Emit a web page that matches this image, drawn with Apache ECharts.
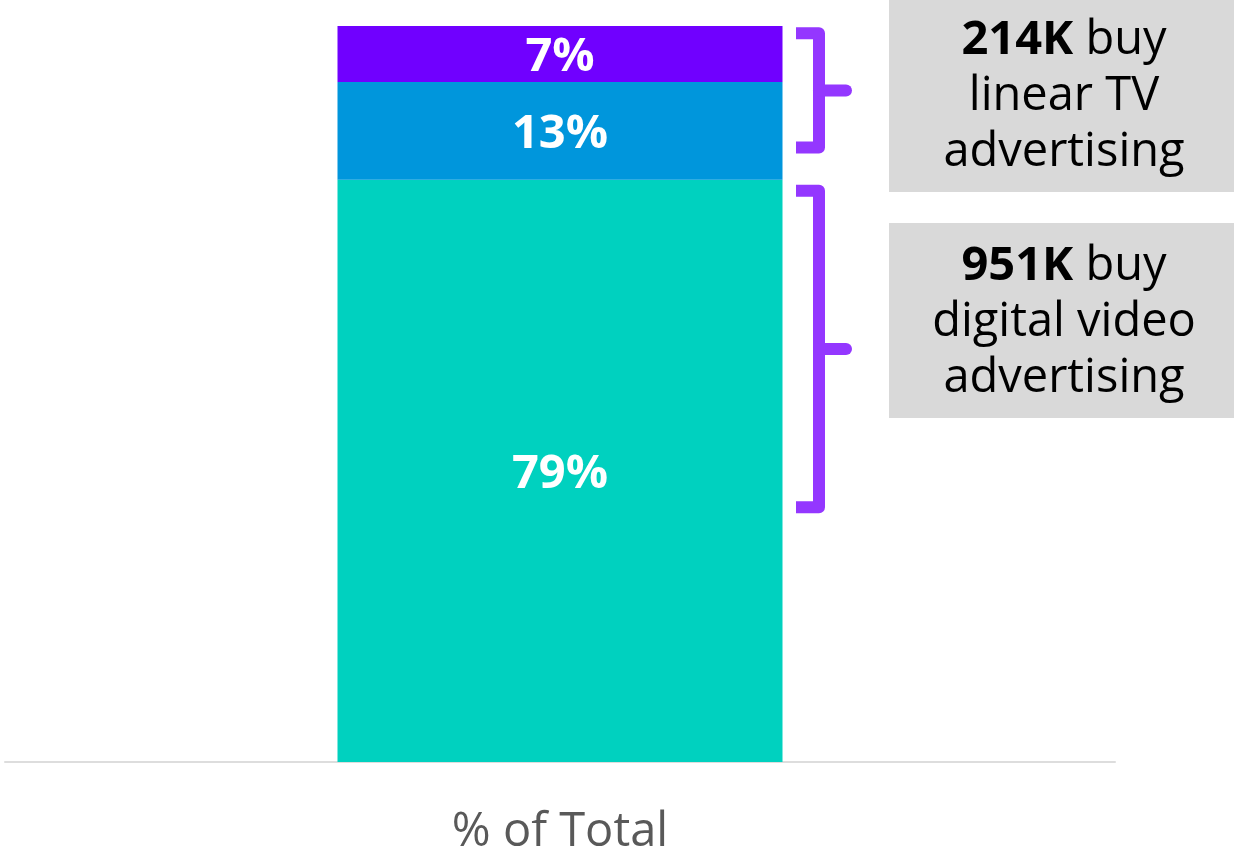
<!DOCTYPE html>
<html>
<head>
<meta charset="utf-8">
<script src="https://cdn.jsdelivr.net/npm/echarts@6/dist/echarts.min.js"></script>
<style>
html,body{margin:0;padding:0;background:#fff;}
#chart{width:1234px;height:850px;}
</style>
</head>
<body>
<div id="chart"></div>
<script>
const categories = ['% of Total'];
const seriesNames = ['Digital video only', 'Both', 'Linear TV only'];
const seriesValues = [[79.1], [13.3], [7.6]];
const seriesLabels = ['79%', '13%', '7%'];
const seriesColors = ['#00D1BF', '#0096DC', '#7000FF'];
const bracketSpans = [[99, 83.5], [77.6, 34.6]];
const boxBold = ['214K', '951K'];
const boxRest = [' buy\nlinear TV\nadvertising', ' buy\ndigital video\nadvertising'];

const FONT = '"Open Sans", "Noto Sans", sans-serif';
const chart = echarts.init(document.getElementById('chart'), null, {renderer: 'canvas'});

const series = seriesNames.map((name, i) => ({
  name: name,
  type: 'bar',
  stack: 'total',
  barWidth: 445,
  data: seriesValues[i],
  itemStyle: {color: seriesColors[i]},
  label: {
    show: true,
    position: 'inside',
    offset: [0, 4],
    formatter: () => seriesLabels[i],
    color: '#fff',
    fontFamily: FONT,
    fontWeight: 'bold',
    fontSize: 47
  }
}));

chart.setOption({
  animation: false,
  backgroundColor: '#fff',
  grid: {left: 5, right: 119, top: 26, bottom: 88, outerBoundsMode: 'none', containLabel: false},
  xAxis: {
    type: 'category',
    data: categories,
    axisLine: {lineStyle: {color: '#DDDDDD', width: 2}},
    axisTick: {show: false},
    axisLabel: {color: '#595959', fontFamily: FONT, fontSize: 47, margin: 47}
  },
  yAxis: {type: 'value', min: 0, max: 100, show: false, splitLine: {show: false}},
  series: series
});

function drawAnnotations() {
  const graphics = [];
  const x0 = 796, x1 = 819, x2 = 846;
  const purple = '#9437FF';
  bracketSpans.forEach((span) => {
    const y1 = chart.convertToPixel({yAxisIndex: 0}, span[0]);
    const y2 = chart.convertToPixel({yAxisIndex: 0}, span[1]);
    const ym = (y1 + y2) / 2;
    graphics.push({
      type: 'polyline',
      shape: {points: [[x0, y1], [x1, y1], [x1, y2], [x0, y2]]},
      style: {stroke: purple, lineWidth: 12, fill: null, lineCap: 'butt', lineJoin: 'round'}
    });
    graphics.push({
      type: 'line',
      shape: {x1: x1, y1: ym, x2: x2, y2: ym},
      style: {stroke: purple, lineWidth: 12, lineCap: 'round'}
    });
  });
  const boxes = [[-3, 192], [223, 418]];
  boxes.forEach((b, i) => {
    graphics.push({
      type: 'rect',
      shape: {x: 889, y: b[0], width: 345, height: b[1] - b[0]},
      style: {fill: '#D9D9D9'}
    });
    const lines = boxRest[i].split('\n');
    const txt = '{b|' + boxBold[i] + '}{n|' + lines[0] + '}\n' + lines.slice(1).map(s => '{n|' + s + '}').join('\n');
    graphics.push({
      type: 'text',
      x: 1064,
      y: (b[0] + b[1]) / 2 + 2,
      style: {
        text: txt,
        align: 'center',
        verticalAlign: 'middle',
        rich: {
          b: {fontFamily: FONT, fontWeight: 'bold', fontSize: 47, lineHeight: 56, fill: '#000'},
          n: {fontFamily: FONT, fontSize: 47, lineHeight: 56, fill: '#000'}
        }
      }
    });
  });
  chart.setOption({graphic: graphics});
}
drawAnnotations();
</script>
</body>
</html>
